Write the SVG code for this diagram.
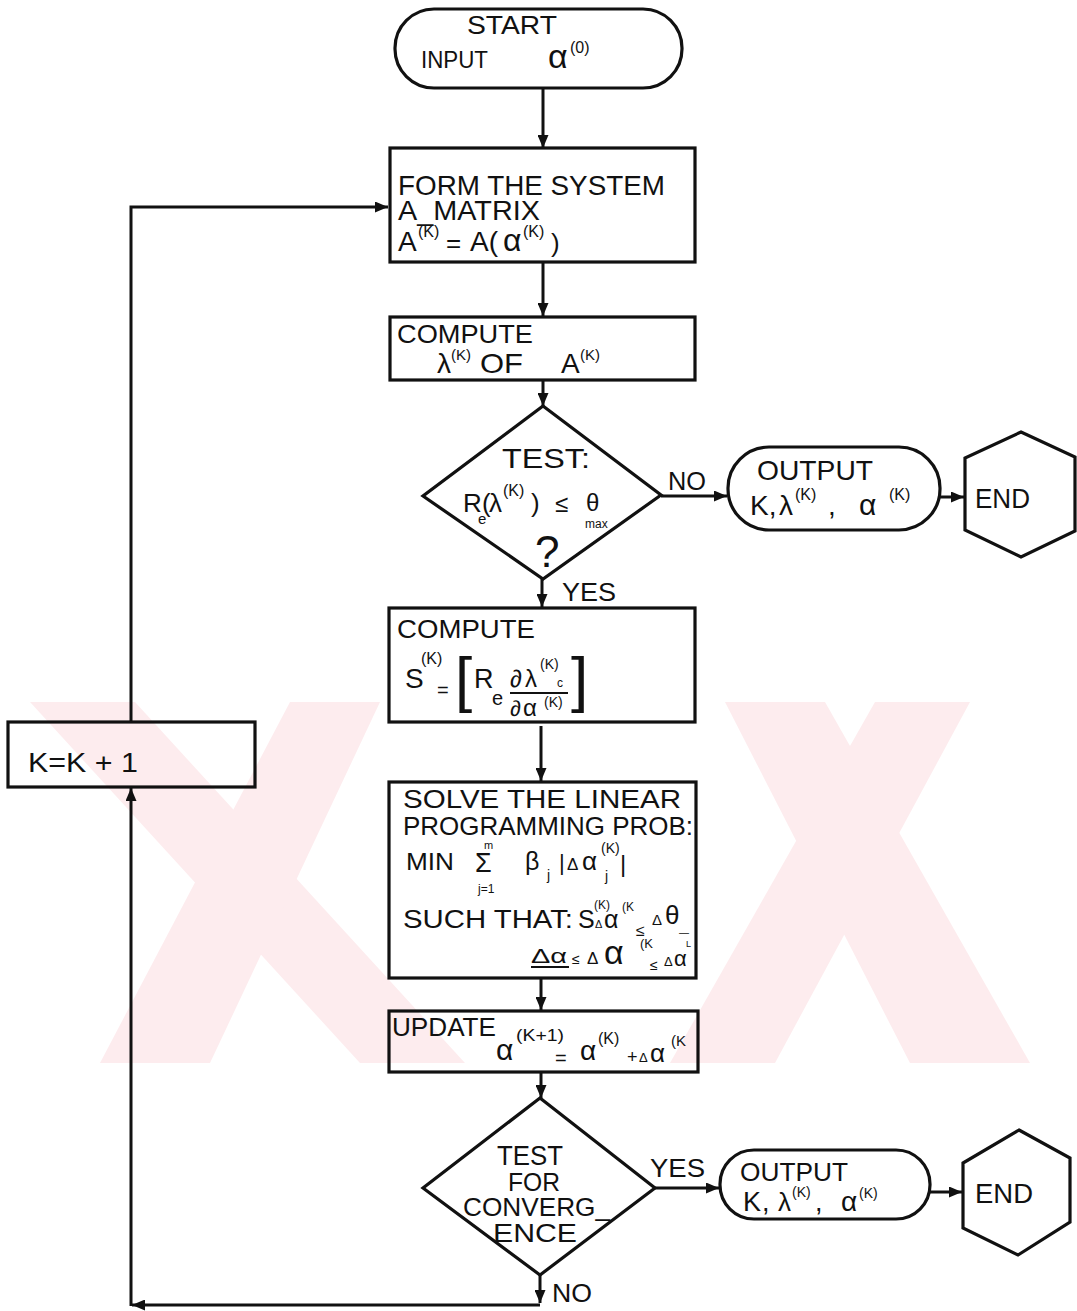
<svg xmlns="http://www.w3.org/2000/svg" width="1077" height="1311" viewBox="0 0 1077 1311">
<defs>
<style>
.bx{fill:none;stroke:#111;stroke-width:3.2;stroke-linejoin:miter}
.ln{fill:none;stroke:#111;stroke-width:3}
.t{font-family:"Liberation Sans",Arial,sans-serif;fill:#111}
.wm{fill:#fdecee}
</style>
<marker id="ah" viewBox="0 0 13 11" refX="13" refY="5.5" markerWidth="13" markerHeight="11" markerUnits="userSpaceOnUse" orient="auto">
<path d="M0,0 L13,5.5 L0,11 z" fill="#111"/>
</marker>
</defs>
<rect width="1077" height="1311" fill="#ffffff"/>
<g id="watermark">
<polygon class="wm" points="30,702 135,702 465,1063 360,1063"/>
<polygon class="wm" points="290,702 380,702 210,1063 100,1063"/>
<polygon class="wm" points="725,702 825,702 1030,1063 910,1063"/>
<polygon class="wm" points="875,702 970,702 775,1063 670,1063"/>
</g>
<g id="connectors">
<path class="ln" d="M543,88 V148" marker-end="url(#ah)"/>
<path class="ln" d="M543,262 V316" marker-end="url(#ah)"/>
<path class="ln" d="M543,380 V406" marker-end="url(#ah)"/>
<path class="ln" d="M661,496 H727" marker-end="url(#ah)"/>
<path class="ln" d="M940,497 H964" marker-end="url(#ah)"/>
<path class="ln" d="M542,579 V607" marker-end="url(#ah)"/>
<path class="ln" d="M541,726 V781" marker-end="url(#ah)"/>
<path class="ln" d="M541,978 V1010" marker-end="url(#ah)"/>
<path class="ln" d="M541,1072 V1098" marker-end="url(#ah)"/>
<path class="ln" d="M655,1188 H719" marker-end="url(#ah)"/>
<path class="ln" d="M930,1192 H962" marker-end="url(#ah)"/>
<path class="ln" d="M540,1275 V1303" marker-end="url(#ah)"/>
<path class="ln" d="M540,1305 H132" marker-end="url(#ah)"/>
<path class="ln" d="M131,1306 V788" marker-end="url(#ah)"/>
<path class="ln" d="M131,722 V207 H388" marker-end="url(#ah)"/>
<text class="t" x="668" y="490" font-size="26" textLength="38" lengthAdjust="spacingAndGlyphs">NO</text>
<text class="t" x="562" y="601" font-size="26" textLength="54" lengthAdjust="spacingAndGlyphs">YES</text>
<text class="t" x="650" y="1177" font-size="26" textLength="55" lengthAdjust="spacingAndGlyphs">YES</text>
<text class="t" x="552" y="1302" font-size="26" textLength="40" lengthAdjust="spacingAndGlyphs">NO</text>
</g>
<g id="start">
<rect class="bx" x="395" y="9" width="287" height="79" rx="39"/>
<text class="t" x="467" y="34" font-size="26" textLength="90" lengthAdjust="spacingAndGlyphs">START</text>
<text class="t" x="421" y="68" font-size="24" textLength="67" lengthAdjust="spacingAndGlyphs">INPUT</text>
<text class="t" x="548" y="68" font-size="34">α</text>
<text class="t" x="570" y="53" font-size="16">(0)</text>
</g>
<g id="form">
<rect class="bx" x="390" y="148" width="305" height="114"/>
<text class="t" x="398" y="195" font-size="28" textLength="267" lengthAdjust="spacingAndGlyphs">FORM THE SYSTEM</text>
<text class="t" x="398" y="220" font-size="27" textLength="142" lengthAdjust="spacingAndGlyphs">A_MATRIX</text>
<text class="t" x="398" y="251" font-size="28">A</text>
<text class="t" x="418" y="237" font-size="16">(K)</text>
<text class="t" x="446" y="252" font-size="26">=</text>
<text class="t" x="470" y="251" font-size="28">A(</text>
<text class="t" x="503" y="251" font-size="32">α</text>
<text class="t" x="523" y="237" font-size="16">(K)</text>
<text class="t" x="551" y="252" font-size="26">)</text>
</g>
<g id="compute-eig">
<rect class="bx" x="390" y="317" width="305" height="63"/>
<text class="t" x="397" y="343" font-size="26" textLength="136" lengthAdjust="spacingAndGlyphs">COMPUTE</text>
<text class="t" x="437" y="373" font-size="28">λ</text>
<text class="t" x="451" y="360" font-size="15">(K)</text>
<text class="t" x="480" y="373" font-size="28" textLength="43" lengthAdjust="spacingAndGlyphs">OF</text>
<text class="t" x="561" y="373" font-size="28">A</text>
<text class="t" x="580" y="360" font-size="15">(K)</text>
</g>
<g id="test-stability">
<polygon class="bx" points="543,406 661,495 543,579 423,496"/>
<text class="t" x="502" y="468" font-size="28" textLength="88" lengthAdjust="spacingAndGlyphs">TEST:</text>
<text class="t" x="463" y="512" font-size="26">R</text>
<text class="t" x="478" y="524" font-size="15">e</text>
<text class="t" x="482" y="512" font-size="26">(</text>
<text class="t" x="489" y="512" font-size="26">λ</text>
<text class="t" x="503" y="496" font-size="16">(K)</text>
<text class="t" x="531" y="512" font-size="26">)</text>
<text class="t" x="555" y="512" font-size="24">≤</text>
<text class="t" x="586" y="511" font-size="24">θ</text>
<text class="t" x="585" y="528" font-size="12">max</text>
<text class="t" x="535" y="567" font-size="44">?</text>
</g>
<g id="output-1">
<rect class="bx" x="728" y="447" width="212" height="83" rx="41"/>
<text class="t" x="757" y="480" font-size="28" textLength="116" lengthAdjust="spacingAndGlyphs">OUTPUT</text>
<text class="t" x="750" y="515" font-size="28">K,</text>
<text class="t" x="779" y="515" font-size="28">λ</text>
<text class="t" x="795" y="500" font-size="16">(K)</text>
<text class="t" x="828" y="515" font-size="28">,</text>
<text class="t" x="859" y="515" font-size="30">α</text>
<text class="t" x="889" y="500" font-size="16">(K)</text>
</g>
<g id="end-1">
<polygon class="bx" points="1021,432 1075,457 1075,531 1021,557 965,530 965,458"/>
<text class="t" x="975" y="508" font-size="27" textLength="55" lengthAdjust="spacingAndGlyphs">END</text>
</g>
<g id="compute-sens">
<rect class="bx" x="389" y="608" width="306" height="114"/>
<text class="t" x="397" y="638" font-size="26" textLength="138" lengthAdjust="spacingAndGlyphs">COMPUTE</text>
<text class="t" x="405" y="688" font-size="28">S</text>
<text class="t" x="421" y="664" font-size="16">(K)</text>
<text class="t" x="437" y="697" font-size="20">=</text>
<text class="t" x="455" y="700" font-size="62">[</text>
<text class="t" x="474" y="688" font-size="27">R</text>
<text class="t" x="492" y="705" font-size="20">e</text>
<text class="t" x="510" y="687" font-size="24">∂</text>
<text class="t" x="525" y="687" font-size="24">λ</text>
<text class="t" x="540" y="669" font-size="14">(K)</text>
<text class="t" x="557" y="687" font-size="12">c</text>
<path d="M510,693 H568" stroke="#111" stroke-width="2"/>
<text class="t" x="510" y="716" font-size="22">∂</text>
<text class="t" x="523" y="716" font-size="24">α</text>
<text class="t" x="544" y="707" font-size="14">(K)</text>
<text class="t" x="571" y="700" font-size="62">]</text>
</g>
<g id="solve-lp">
<rect class="bx" x="389" y="782" width="307" height="196"/>
<text class="t" x="403" y="808" font-size="25" textLength="278" lengthAdjust="spacingAndGlyphs">SOLVE  THE LINEAR</text>
<text class="t" x="403" y="835" font-size="25" textLength="290" lengthAdjust="spacingAndGlyphs">PROGRAMMING PROB:</text>
<text class="t" x="406" y="870" font-size="24" textLength="48" lengthAdjust="spacingAndGlyphs">MIN</text>
<text class="t" x="475" y="872" font-size="27">Σ</text>
<text class="t" x="484" y="849" font-size="11">m</text>
<text class="t" x="478" y="893" font-size="12">j=1</text>
<text class="t" x="525" y="870" font-size="25">β</text>
<text class="t" x="547" y="880" font-size="14">j</text>
<text class="t" x="559" y="870" font-size="22">|</text>
<text class="t" x="567" y="870" font-size="17">Δ</text>
<text class="t" x="582" y="870" font-size="26">α</text>
<text class="t" x="605" y="881" font-size="14">j</text>
<text class="t" x="601" y="853" font-size="14">(K)</text>
<text class="t" x="620" y="872" font-size="24">|</text>
<text class="t" x="403" y="928" font-size="25" textLength="170" lengthAdjust="spacingAndGlyphs">SUCH THAT:</text>
<text class="t" x="578" y="928" font-size="25">S</text>
<text class="t" x="594" y="909" font-size="12">(K)</text>
<text class="t" x="595" y="928" font-size="11">Δ</text>
<text class="t" x="604" y="928" font-size="25">α</text>
<text class="t" x="622" y="911" font-size="12">(K</text>
<text class="t" x="636" y="936" font-size="16">≤</text>
<text class="t" x="652" y="925" font-size="15">Δ</text>
<text class="t" x="665" y="924" font-size="26">θ</text>
<text class="t" x="679" y="936" font-size="10">—</text>
<text class="t" x="686" y="947" font-size="9">L</text>
<text class="t" x="531" y="963" font-size="20" textLength="36" lengthAdjust="spacingAndGlyphs">Δα</text>
<path d="M531,967 H569" stroke="#111" stroke-width="2"/>
<text class="t" x="572" y="964" font-size="14">≤</text>
<text class="t" x="587" y="964" font-size="17">Δ</text>
<text class="t" x="604" y="964" font-size="34">α</text>
<text class="t" x="640" y="948" font-size="13">(K</text>
<text class="t" x="650" y="970" font-size="14">≤</text>
<text class="t" x="664" y="966" font-size="13">Δ</text>
<text class="t" x="674" y="966" font-size="22">α</text>
</g>
<g id="update">
<rect class="bx" x="389" y="1011" width="309" height="61"/>
<text class="t" x="392" y="1036" font-size="25" textLength="104" lengthAdjust="spacingAndGlyphs">UPDATE</text>
<text class="t" x="496" y="1060" font-size="30">α</text>
<text class="t" x="516" y="1041" font-size="17" textLength="48" lengthAdjust="spacingAndGlyphs">(K+1)</text>
<text class="t" x="555" y="1065" font-size="20">=</text>
<text class="t" x="580" y="1060" font-size="28">α</text>
<text class="t" x="598" y="1044" font-size="16">(K)</text>
<text class="t" x="627" y="1063" font-size="18">+</text>
<text class="t" x="639" y="1062" font-size="13">Δ</text>
<text class="t" x="650" y="1062" font-size="26">α</text>
<text class="t" x="671" y="1046" font-size="15">(K</text>
</g>
<g id="test-convergence">
<polygon class="bx" points="540,1098 655,1188 540,1275 423,1188"/>
<text class="t" x="497" y="1165" font-size="27" textLength="66" lengthAdjust="spacingAndGlyphs">TEST</text>
<text class="t" x="508" y="1191" font-size="26" textLength="52" lengthAdjust="spacingAndGlyphs">FOR</text>
<text class="t" x="463" y="1216" font-size="26" textLength="147" lengthAdjust="spacingAndGlyphs">CONVERG_</text>
<text class="t" x="493" y="1242" font-size="26" textLength="84" lengthAdjust="spacingAndGlyphs">ENCE</text>
</g>
<g id="output-2">
<rect class="bx" x="720" y="1150" width="210" height="69" rx="34"/>
<text class="t" x="740" y="1181" font-size="26" textLength="108" lengthAdjust="spacingAndGlyphs">OUTPUT</text>
<text class="t" x="743" y="1211" font-size="27">K</text>
<text class="t" x="762" y="1211" font-size="27">,</text>
<text class="t" x="778" y="1211" font-size="26">λ</text>
<text class="t" x="792" y="1197" font-size="14">(K)</text>
<text class="t" x="815" y="1211" font-size="27">,</text>
<text class="t" x="841" y="1211" font-size="28">α</text>
<text class="t" x="859" y="1198" font-size="14">(K)</text>
</g>
<g id="end-2">
<polygon class="bx" points="1019,1130 1070,1158 1070,1222 1018,1255 963,1228 963,1163"/>
<text class="t" x="975" y="1203" font-size="27" textLength="58" lengthAdjust="spacingAndGlyphs">END</text>
</g>
<g id="increment">
<rect class="bx" x="8" y="722" width="247" height="65"/>
<text class="t" x="28" y="772" font-size="27" textLength="110" lengthAdjust="spacingAndGlyphs">K=K + 1</text>
</g>
</svg>
